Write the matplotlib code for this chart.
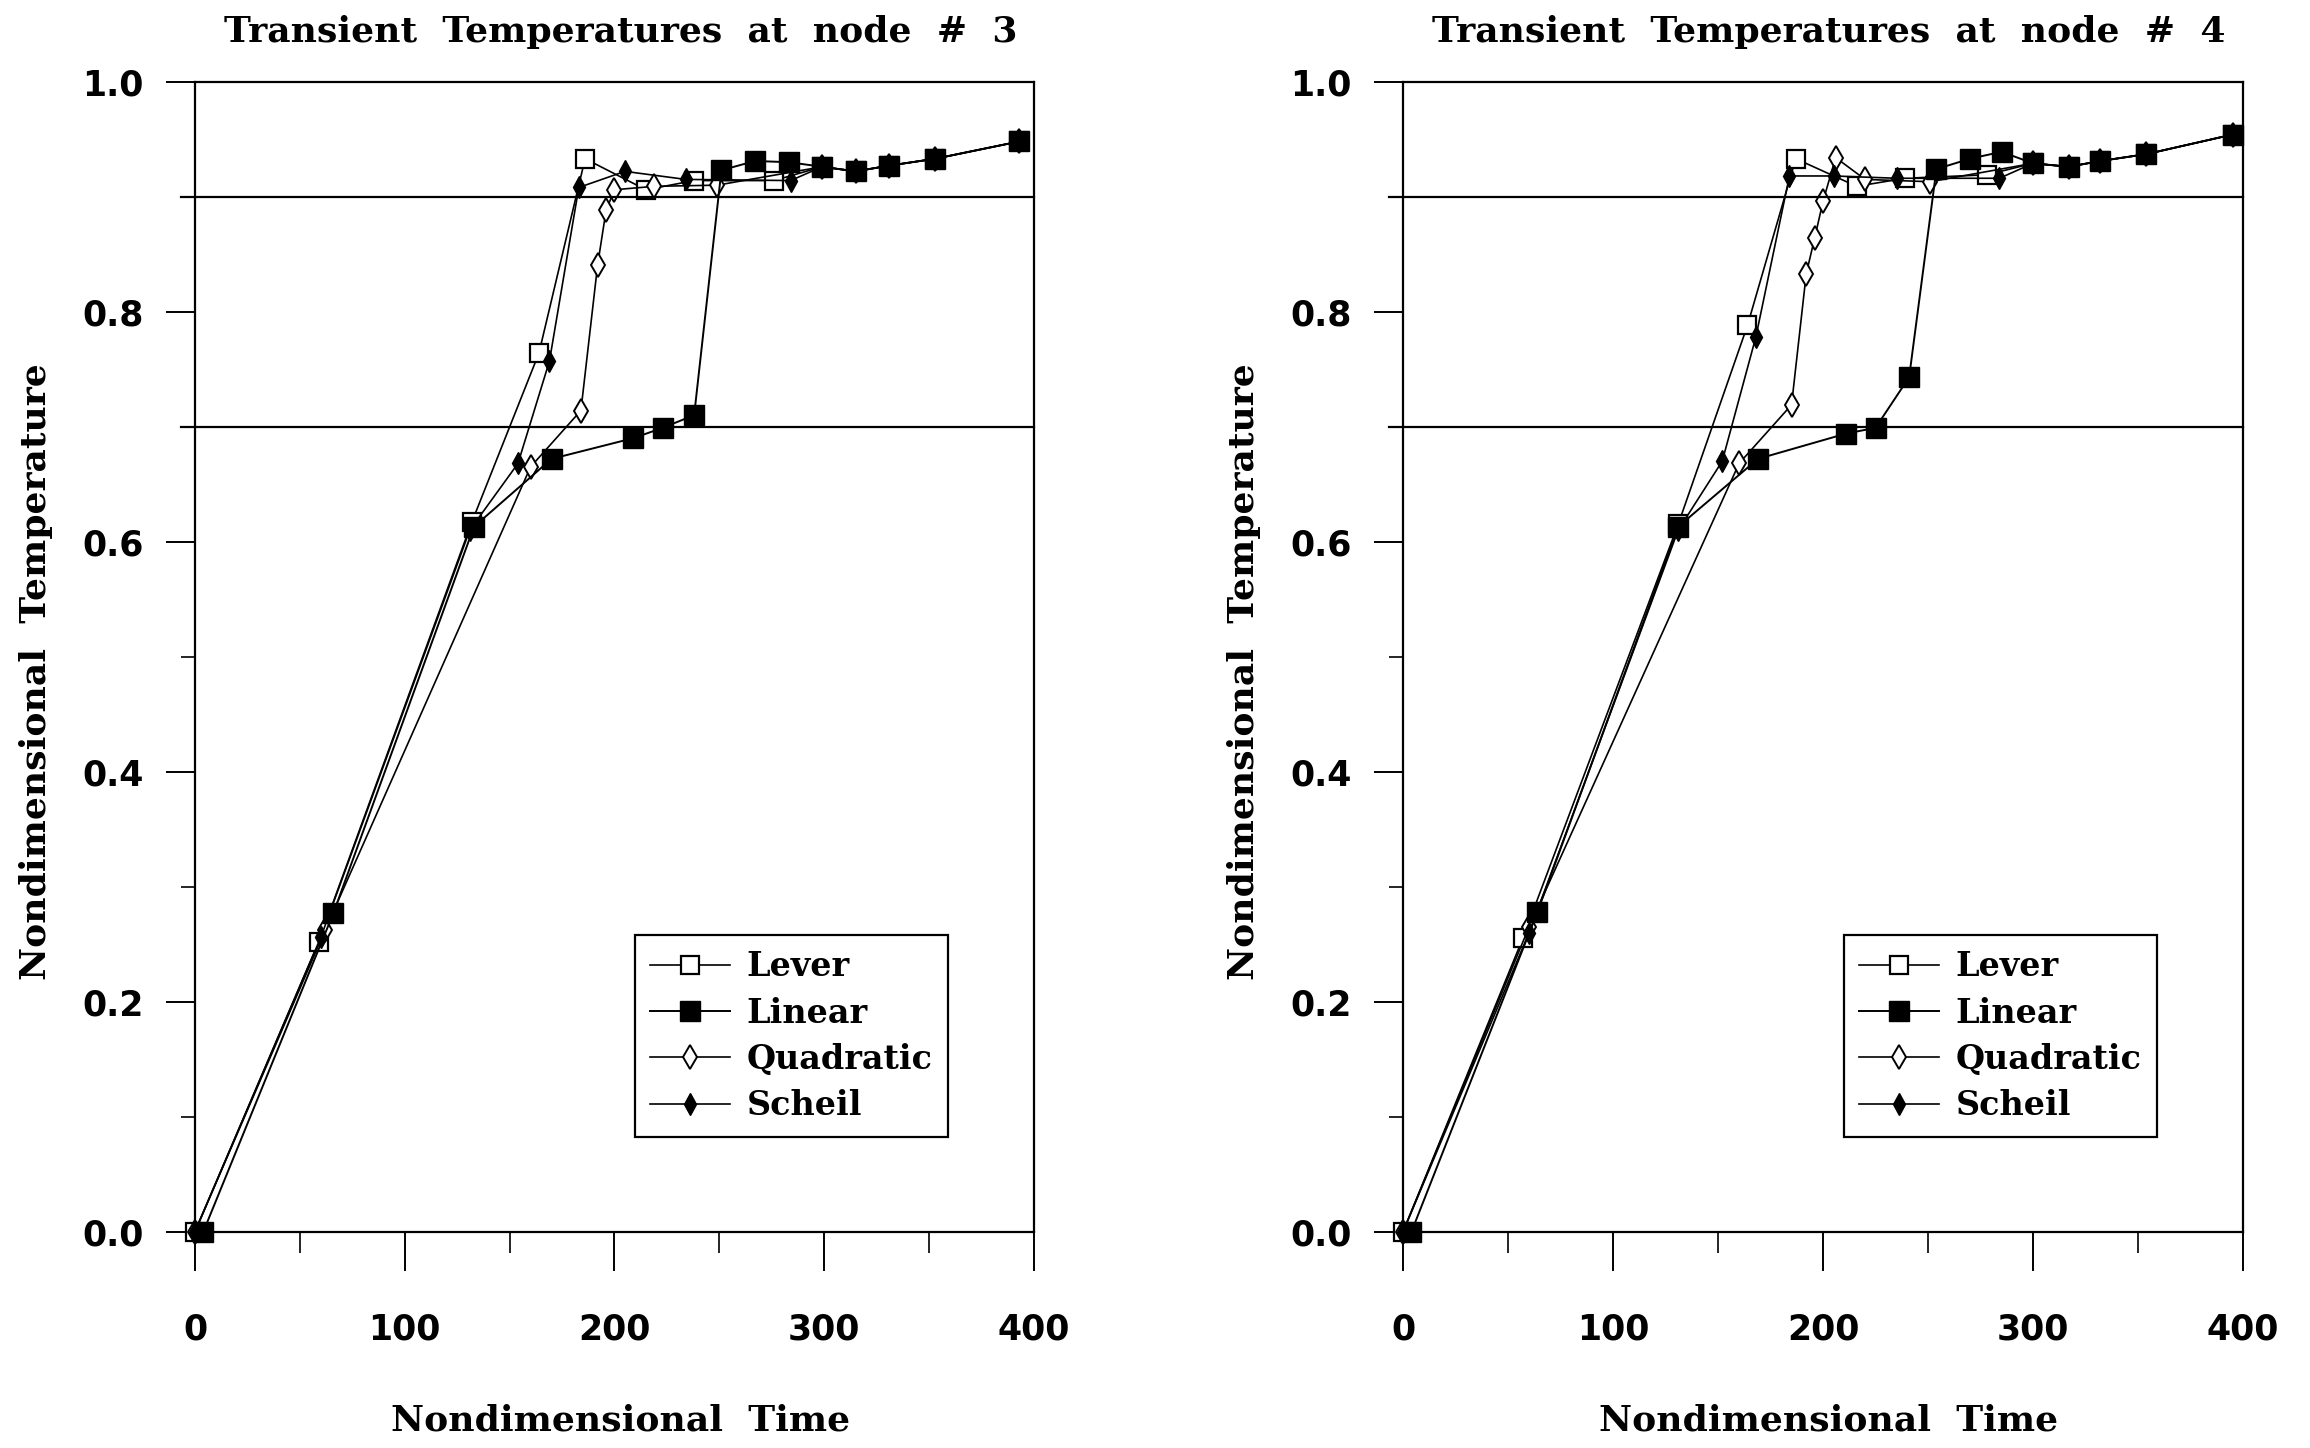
import numpy as np
import matplotlib.pyplot as plt
from matplotlib.ticker import MultipleLocator

# ---- node 3 data ----
n3_lever_t = [0, 59, 132, 164, 186, 215, 238, 276, 299, 315, 331, 353, 393]
n3_lever_T = [0.0, 0.252, 0.617, 0.764, 0.933, 0.906, 0.914, 0.914, 0.926, 0.922, 0.927, 0.933, 0.948]
n3_linear_t = [4, 66, 133, 170, 209, 223, 238, 251, 267, 283, 299, 315, 331, 353, 393]
n3_linear_T = [0.0, 0.277, 0.613, 0.672, 0.690, 0.699, 0.710, 0.923, 0.931, 0.930, 0.926, 0.922, 0.927, 0.933, 0.948]
n3_quad_t = [0, 62, 160, 184, 192, 196, 200, 219, 249, 299, 315, 331, 353, 393]
n3_quad_T = [0.0, 0.262, 0.665, 0.714, 0.841, 0.888, 0.906, 0.909, 0.910, 0.926, 0.922, 0.927, 0.933, 0.948]
n3_scheil_t = [0, 60, 131, 154, 169, 183, 205, 234, 284, 299, 315, 331, 353, 393]
n3_scheil_T = [0.0, 0.256, 0.610, 0.668, 0.757, 0.908, 0.922, 0.915, 0.914, 0.926, 0.922, 0.927, 0.933, 0.948]

# ---- node 4 data ----
n4_lever_t = [0, 57, 131, 164, 187, 216, 239, 278, 300, 317, 332, 354, 395]
n4_lever_T = [0.0, 0.255, 0.615, 0.788, 0.933, 0.909, 0.916, 0.919, 0.929, 0.926, 0.931, 0.937, 0.954]
n4_linear_t = [4, 64, 131, 169, 211, 225, 241, 254, 270, 285, 300, 317, 332, 354, 395]
n4_linear_T = [0.0, 0.278, 0.613, 0.672, 0.694, 0.699, 0.743, 0.924, 0.933, 0.939, 0.929, 0.926, 0.931, 0.937, 0.954]
n4_quad_t = [0, 60, 160, 185, 192, 196, 200, 206, 220, 251, 300, 317, 332, 354, 395]
n4_quad_T = [0.0, 0.265, 0.668, 0.719, 0.833, 0.864, 0.896, 0.934, 0.915, 0.913, 0.929, 0.926, 0.931, 0.937, 0.954]
n4_scheil_t = [0, 60, 131, 152, 168, 184, 205, 235, 284, 300, 317, 332, 354, 395]
n4_scheil_T = [0.0, 0.260, 0.610, 0.670, 0.778, 0.918, 0.918, 0.916, 0.916, 0.929, 0.926, 0.931, 0.937, 0.954]

serif = 'DejaVu Serif'
sans = 'DejaVu Sans'

fig = plt.figure(figsize=(23.1, 14.48), dpi=100)
ax1 = fig.add_axes([0.0844, 0.1494, 0.3632, 0.7942])
ax2 = fig.add_axes([0.6074, 0.1494, 0.3636, 0.7942])


def draw(ax, node, data):
    (lt, lT), (nt, nT), (qt, qT), (st, sT) = data
    ax.plot(lt, lT, color='black', lw=1.2, marker='s', ms=13, mfc='white', mec='black', mew=1.6,
            label='Lever', clip_on=False)
    ax.plot(qt, qT, color='black', lw=1.2, marker='d', ms=12, mfc='white', mec='black', mew=1.4,
            label='Quadratic', clip_on=False)
    ax.plot(st, sT, color='black', lw=1.2, marker='d', ms=11, mfc='black', mec='black',
            label='Scheil', clip_on=False)
    ax.plot(nt, nT, color='black', lw=1.4, marker='s', ms=14, mfc='black', mec='black',
            label='Linear', clip_on=False)

    ax.axhline(0.9, color='black', lw=1.6, xmin=-0.017, clip_on=False)
    ax.axhline(0.7, color='black', lw=1.6, xmin=-0.017, clip_on=False)

    ax.set_xlim(0, 400)
    ax.set_ylim(0, 1.0)
    ax.xaxis.set_major_locator(MultipleLocator(100))
    ax.xaxis.set_minor_locator(MultipleLocator(50))
    ax.yaxis.set_major_locator(MultipleLocator(0.2))
    ax.yaxis.set_minor_locator(MultipleLocator(0.1))
    ax.tick_params(axis='x', which='major', direction='out', length=28, width=1.4, pad=30, labelsize=25)
    ax.tick_params(axis='x', which='minor', direction='out', length=15, width=1.2)
    ax.tick_params(axis='y', which='major', direction='out', length=21, width=1.4, pad=16, labelsize=25)
    ax.tick_params(axis='y', which='minor', direction='out', length=10, width=1.2)
    ax.yaxis.set_major_formatter(plt.FormatStrFormatter('%.1f'))
    for lab in ax.get_xticklabels() + ax.get_yticklabels():
        lab.set_fontweight('bold')
        lab.set_family(sans)
    for sp in ax.spines.values():
        sp.set_linewidth(1.6)

    ax.set_xlabel('Nondimensional  Time', fontsize=26, fontweight='bold', family=serif)
    ax.set_ylabel('Nondimensional  Temperature', fontsize=26, fontweight='bold', family=serif)
    ax.xaxis.set_label_coords(0.507, -0.149)
    ax.yaxis.set_label_coords(-0.169, 0.487)
    ax.text(0.507, 1.043, 'Transient  Temperatures  at  node  #  %d' % node, transform=ax.transAxes,
            ha='center', va='center', fontsize=26, fontweight='bold', family=serif)

    h, l = ax.get_legend_handles_labels()
    order = [0, 3, 1, 2]
    leg = ax.legend([h[i] for i in order], [l[i] for i in order], loc='center',
                    bbox_to_anchor=(0.711, 0.17), frameon=True, fancybox=False,
                    edgecolor='black', framealpha=1, handlelength=2.4, borderpad=0.45,
                    labelspacing=0.4, handletextpad=0.5,
                    prop={'family': serif, 'weight': 'bold', 'size': 24})
    leg.get_frame().set_linewidth(1.6)


draw(ax1, 3, [(n3_lever_t, n3_lever_T), (n3_linear_t, n3_linear_T),
              (n3_quad_t, n3_quad_T), (n3_scheil_t, n3_scheil_T)])
draw(ax2, 4, [(n4_lever_t, n4_lever_T), (n4_linear_t, n4_linear_T),
              (n4_quad_t, n4_quad_T), (n4_scheil_t, n4_scheil_T)])

plt.savefig('out.png', dpi=100)
